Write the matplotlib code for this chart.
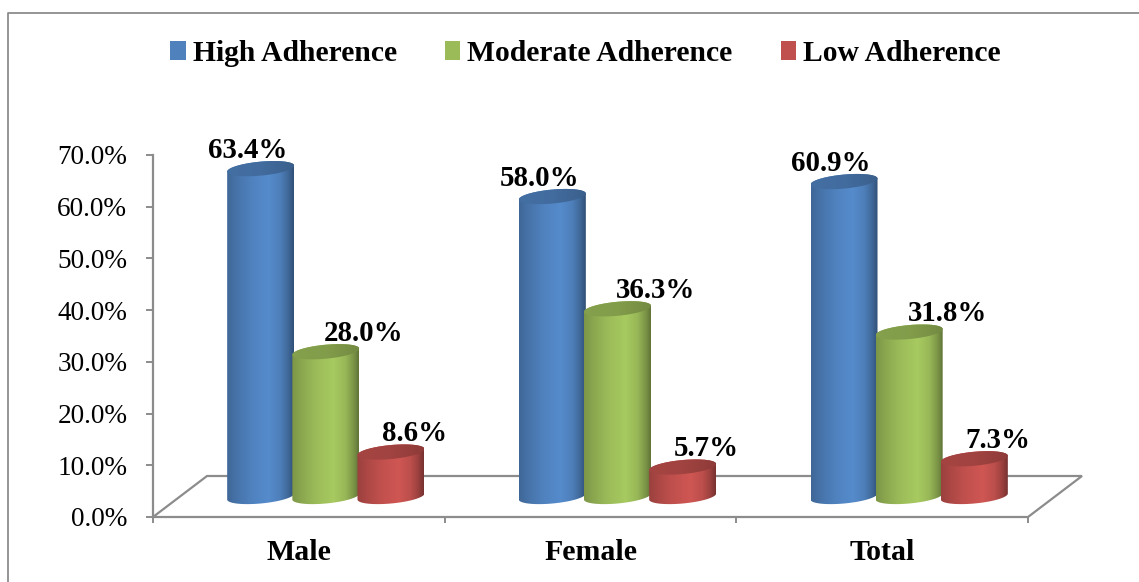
import numpy as np
import matplotlib
matplotlib.use("Agg")
import matplotlib.pyplot as plt
from matplotlib.patches import Polygon, Patch
from matplotlib.lines import Line2D
from matplotlib.ticker import FuncFormatter
from matplotlib.colors import to_rgb
from matplotlib.font_manager import FontProperties

# ---- data -------------------------------------------------------------
categories = ["Male", "Female", "Total"]
series_names = ["High Adherence", "Moderate Adherence", "Low Adherence"]
high = [63.4, 58.0, 60.9]
moderate = [28.0, 36.3, 31.8]
low = [8.6, 5.7, 7.3]
series_colors = ["#4F81BD", "#9BBB59", "#C0504D"]
y_ticks = [0, 10, 20, 30, 40, 50, 60, 70]

plt.rcParams["font.family"] = ["Liberation Serif", "DejaVu Serif"]

# ---- figure / axes ----------------------------------------------------
W, H = 1139, 582
fig = plt.figure(figsize=(W / 100, H / 100), dpi=100)
ax_left, ax_bottom, ax_w, ax_h = 153, 65, 875, 362
ax = fig.add_axes([ax_left / W, ax_bottom / H, ax_w / W, ax_h / H])
XMAX, YMAX = len(categories), 70
ax.set_xlim(0, XMAX)
ax.set_ylim(0, YMAX)

px_x = ax_w / XMAX          # pixels per category unit
px_y = ax_h / YMAX          # pixels per percent

# pseudo-3D geometry (in data units)
DX = 27 / px_x              # half floor depth, horizontal
DY = 20.5 / px_y            # half floor depth, vertical
HALF_W = 33.5 / px_x        # cylinder radius
HALF_H = 7.0 / px_y         # ellipse half-height
SHEAR = (6.0 / px_y) / (2 * HALF_W)   # slight tilt of the ellipses
SLOT = 0.2234               # distance between neighbouring bars
GRID = "#8C8C8C"

# floor
floor = Polygon([(0, 0), (XMAX, 0), (XMAX + 2 * DX, 2 * DY), (2 * DX, 2 * DY)],
                closed=True, facecolor="white", edgecolor=GRID, lw=1.6,
                zorder=1, clip_on=False)
ax.add_patch(floor)


def shade_profile(n=256):
    t = np.linspace(0, 1, n)
    pts_t = [0.0, 0.12, 0.35, 0.62, 0.8, 0.92, 1.0]
    pts_v = [0.80, 0.88, 1.00, 1.08, 0.98, 0.80, 0.62]
    return np.interp(t, pts_t, pts_v)


def draw_cylinder(xc, value, color, z):
    base = np.array(to_rgb(color))
    a, b, k = HALF_W, HALF_H, SHEAR
    yb = DY
    yt = value + DY
    lower = np.linspace(np.pi, 2 * np.pi, 120)
    upper = np.linspace(0, np.pi, 120)
    bx = xc + a * np.cos(lower)
    by = yb + b * np.sin(lower) + k * (bx - xc)
    tx = xc + a * np.cos(upper)
    ty = yt + b * np.sin(upper) + k * (tx - xc)
    body = Polygon(np.column_stack([np.r_[bx, tx], np.r_[by, ty]]),
                   closed=True, facecolor="none", edgecolor="none", zorder=z)
    ax.add_patch(body)
    prof = shade_profile()
    img = np.clip(base[None, None, :] * prof[None, :, None], 0, 1)
    extent = [xc - a, xc + a, yb - b - k * a - 1, yt + b + k * a + 1]
    im = ax.imshow(img, extent=extent, aspect="auto", origin="lower",
                   interpolation="bilinear", zorder=z)
    im.set_clip_path(body)

    # top face
    full = np.linspace(0, 2 * np.pi, 240)
    ex = xc + a * np.cos(full)
    ey = yt + b * np.sin(full) + k * (ex - xc)
    top = Polygon(np.column_stack([ex, ey]), closed=True, facecolor="none",
                  edgecolor="none", zorder=z + 0.1)
    ax.add_patch(top)
    t = np.linspace(0, 1, 256)
    tprof = np.interp(t, [0, 0.5, 1], [0.86, 0.84, 0.74])
    timg = np.clip(base[None, None, :] * tprof[None, :, None], 0, 1)
    tim = ax.imshow(timg, extent=[xc - a, xc + a, yt - b - k * a - 1,
                                  yt + b + k * a + 1],
                    aspect="auto", origin="lower", interpolation="bilinear",
                    zorder=z + 0.1)
    tim.set_clip_path(top)
    return yt + b + k * a * 0.3


series = [high, moderate, low]
label_shift_px = [-13, 38, 24]
for ci in range(len(categories)):
    for si, vals in enumerate(series):
        xc = ci + 0.5 + (si - 1) * SLOT + DX
        top_y = draw_cylinder(xc, vals[ci], series_colors[si], 3 + si)
        ax.annotate(f"{vals[ci]:.1f}%", xy=(xc, top_y),
                    xytext=(label_shift_px[si], 3), textcoords="offset pixels",
                    ha="center", va="baseline", fontsize=20.8,
                    fontweight="bold", color="black", zorder=10,
                    annotation_clip=False)

ax.set_xlim(0, XMAX)
ax.set_ylim(0, YMAX)

# ---- axes styling -----------------------------------------------------
for side in ["top", "right", "bottom"]:
    ax.spines[side].set_visible(False)
ax.spines["left"].set_color(GRID)
ax.spines["left"].set_linewidth(1.6)
ax.spines["left"].set_zorder(2)

ax.set_yticks(y_ticks)
ax.yaxis.set_major_formatter(FuncFormatter(lambda v, p: f"{v:.1f}%"))
ax.tick_params(axis="y", direction="out", length=5, width=1.4, color=GRID,
               pad=13.5, labelsize=19.6)

ax.set_xticks(range(XMAX + 1))
ax.set_xticklabels([])
ax.set_xticks([i + 0.5 for i in range(XMAX)], labels=categories, minor=True)
ax.tick_params(axis="x", which="major", direction="out", length=4.5,
               width=1.4, color=GRID)
ax.tick_params(axis="x", which="minor", length=0, pad=16, labelsize=21.5)
for lab in ax.get_xticklabels(minor=True):
    lab.set_fontweight("bold")

# ---- legend -----------------------------------------------------------
handles = [Patch(facecolor=c, edgecolor="none", label=n)
           for c, n in zip(series_colors, series_names)]
fig.legend(handles=handles, loc="center", bbox_to_anchor=(0.514, 0.908),
           ncol=3, frameon=False,
           prop=FontProperties(family=["Liberation Serif"], weight="bold",
                               size=21.3),
           handlelength=0.53, handleheight=0.62, handletextpad=0.24,
           columnspacing=1.62)

# chart border
fig.add_artist(Line2D([8 / W, 8 / W, 1.0], [0, 1 - 13 / H, 1 - 13 / H],
                      transform=fig.transFigure, color=GRID, lw=1.3))

fig.savefig("out.png", dpi=100, facecolor="white")
